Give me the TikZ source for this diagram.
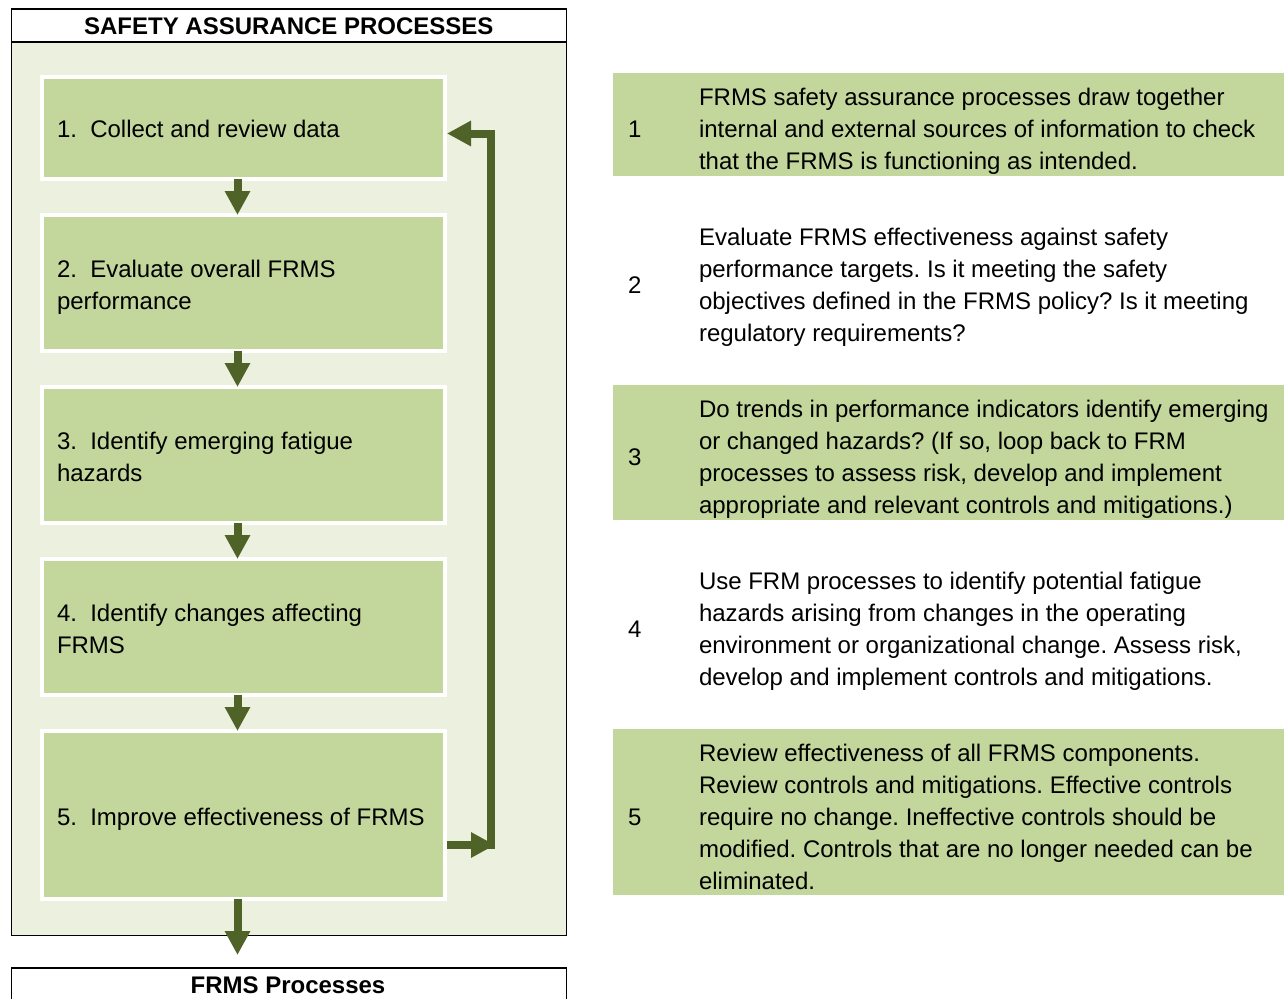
\documentclass[tikz,border=0pt]{standalone}
\usepackage{fontspec}
\setmainfont{Liberation Sans}
\usetikzlibrary{arrows.meta}
\frenchspacing
\definecolor{bglight}{HTML}{EBF1DE}
\definecolor{boxgreen}{HTML}{C3D69B}
\definecolor{arrowgreen}{HTML}{4F6228}
\tikzset{
  stepbox/.style={draw=white, line width=4pt, fill=boxgreen, inner sep=0pt, outer sep=0pt, anchor=north west, minimum width=403pt},
  band/.style={fill=boxgreen, draw=none, inner sep=0pt, outer sep=0pt, anchor=north west, minimum width=671pt},
  txt/.style={inner sep=0pt, outer sep=0pt, anchor=west, align=left, font=\fontsize{24}{32}\selectfont},
  arr/.style={draw=arrowgreen, line width=8pt, -{Triangle[length=24pt,width=24pt]}},
  arrplain/.style={draw=arrowgreen, line width=8pt},
  frame/.style={draw=black, line width=1.6pt},
}
\newcommand{\ls}{\strut}
\begin{document}
\begin{tikzpicture}[x=1pt,y=-1pt]
\useasboundingbox (0,0) rectangle (1284,998);
\clip (0,0) rectangle (1284,998);
% outer frame
\node[frame, fill=bglight, inner sep=0pt, anchor=north west, minimum width=555pt, minimum height=926pt] (frame) at (10.5,8.5) {};
\node[frame, fill=white, inner sep=0pt, anchor=north west, minimum width=555pt, minimum height=33pt,
      font=\bfseries\fontsize{24}{28}\selectfont] (head) at (10.5,8.5) {\raisebox{-1pt}{SAFETY ASSURANCE PROCESSES}};
% step boxes
\node[stepbox, minimum height=102pt] (b1) at (42,77) {};
\node[stepbox, minimum height=136pt] (b2) at (42,215) {};
\node[stepbox, minimum height=136pt] (b3) at (42,387) {};
\node[stepbox, minimum height=136pt] (b4) at (42,559) {};
\node[stepbox, minimum height=168pt] (b5) at (42,731) {};
\node[txt] (t1) at (57,131) {\ls 1.\hspace{13.3pt}Collect and review data};
\node[txt] (t2) at (57,287) {\ls 2.\hspace{13.3pt}Evaluate overall FRMS\\\ls performance};
\node[txt] (t3) at (57,459) {\ls 3.\hspace{13.3pt}Identify emerging fatigue\\\ls hazards};
\node[txt] (t4) at (57,631) {\ls 4.\hspace{13.3pt}Identify changes affecting\\\ls FRMS};
\node[txt] (t5) at (57,819) {\ls 5.\hspace{13.3pt}Improve effectiveness of FRMS};
% bottom box
\node[frame, fill=white, inner sep=0pt, anchor=north west, minimum width=555pt, minimum height=40pt] (proc) at (10.5,967) {};
\node[inner sep=0pt, anchor=base, font=\bfseries\fontsize{24}{28}\selectfont] (proct) at (288,993) {FRMS Processes};
% arrows
\coordinate (ax) at (237.5,0);
\coordinate (endp) at (237.5,955);
\coordinate (cb) at (491,845);
\coordinate (ct) at (491,133.5);
\coordinate (bend) at (495,845);
\draw[arr] (b1.south -| ax) -- (b2.north -| ax);
\draw[arr] (b2.south -| ax) -- (b3.north -| ax);
\draw[arr] (b3.south -| ax) -- (b4.north -| ax);
\draw[arr] (b4.south -| ax) -- (b5.north -| ax);
\draw[arr] (b5.south -| ax) -- (endp);
\draw[arrplain] (cb) ++(0,4) -- (ct) -- ++(-4,0);
\draw[arr] ([xshift=4pt]ct) -- ([xshift=2pt]b1.east |- ct);
\draw[arr] ([xshift=2pt]b5.east |- cb) -- (bend);
% right side bands
\node[band, minimum height=103pt] (r1) at (613,73) {};
\node[band, minimum height=135pt] (r3) at (613,385) {};
\node[band, minimum height=166pt] (r5) at (613,729) {};
\node[txt] (n1) at (628,131) {\ls 1};
\node[txt] (n2) at (628,287) {\ls 2};
\node[txt] (n3) at (628,459) {\ls 3};
\node[txt] (n4) at (628,631) {\ls 4};
\node[txt] (n5) at (628,819) {\ls 5};
\node[txt] (d1) at (699,131) {\ls FRMS safety assurance processes draw together\\\ls internal and external sources of information to check\\\ls that the FRMS is functioning as intended.};
\node[txt] (d2) at (699,287) {\ls Evaluate FRMS effectiveness against safety\\\ls performance targets. Is it meeting the safety\\\ls objectives defined in the FRMS policy? Is it meeting\\\ls regulatory requirements?};
\node[txt] (d3) at (699,459) {\ls Do trends in performance indicators identify emerging\\\ls or changed hazards? (If so, loop back to FRM\\\ls processes to assess risk, develop and implement\\\ls appropriate and relevant controls and mitigations.)};
\node[txt] (d4) at (699,631) {\ls Use FRM processes to identify potential fatigue\\\ls hazards arising from changes in the operating\\\ls environment or organizational change. Assess risk,\\\ls develop and implement controls and mitigations.};
\node[txt] (d5) at (699,819) {\ls Review effectiveness of all FRMS components.\\\ls Review controls and mitigations. Effective controls\\\ls require no change. Ineffective controls should be\\\ls modified. Controls that are no longer needed can be\\\ls eliminated.};
\end{tikzpicture}
\end{document}
